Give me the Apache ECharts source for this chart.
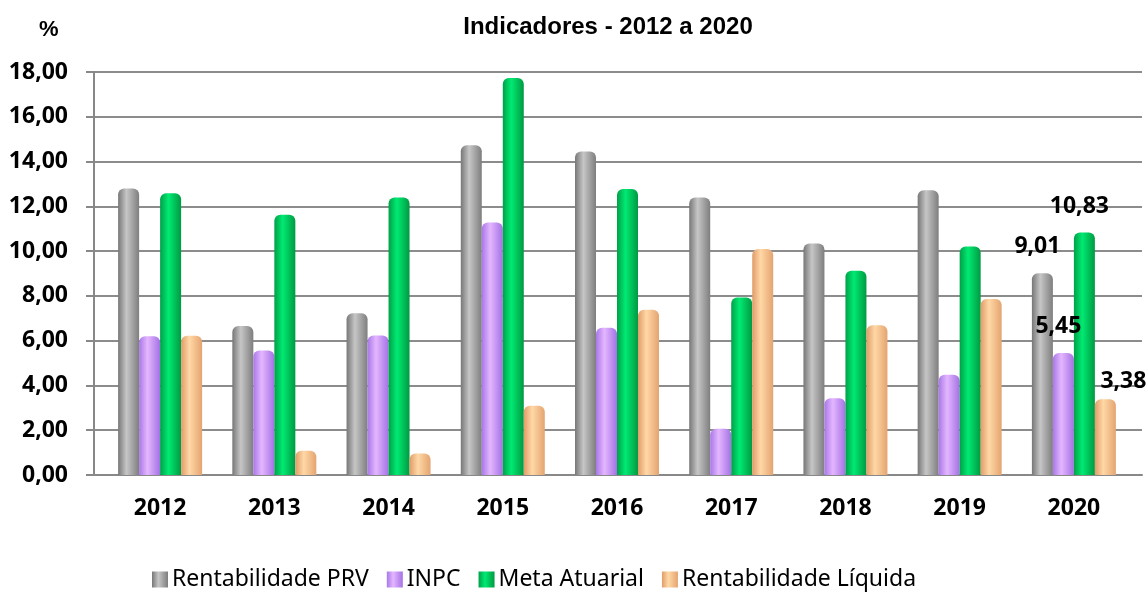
<!DOCTYPE html>
<html>
<head>
<meta charset="utf-8">
<script src="https://cdn.jsdelivr.net/npm/echarts@6/dist/echarts.min.js"></script>
<style>
html,body{margin:0;padding:0;background:#fff;}
#chart{width:1148px;height:597px;}
</style>
</head>
<body>
<div id="chart"></div>
<script>
const categories = ['2012','2013','2014','2015','2016','2017','2018','2019','2020'];
const rentabilidadePRV = [12.80, 6.66, 7.23, 14.73, 14.45, 12.40, 10.34, 12.72, 9.01];
const inpc = [6.20, 5.56, 6.23, 11.28, 6.58, 2.07, 3.43, 4.48, 5.45];
const metaAtuarial = [12.58, 11.62, 12.40, 17.73, 12.77, 7.93, 9.12, 10.21, 10.83];
const rentabilidadeLiquida = [6.22, 1.08, 0.96, 3.09, 7.38, 10.09, 6.69, 7.86, 3.38];
const seriesNames = ['Rentabilidade PRV', 'INPC', 'Meta Atuarial', 'Rentabilidade Líquida'];
const yMin = 0, yMax = 18, yStep = 2;

const chart = echarts.init(document.getElementById('chart'));
const fmt = v => Number(v).toFixed(2).replace('.', ',');
const grad = (a, b, c) => new echarts.graphic.LinearGradient(0, 0, 1, 0, [
  {offset: 0, color: a}, {offset: 0.4, color: b}, {offset: 1, color: c}
]);
const styles = [
  grad('#777777', '#c6c6c6', '#7e7e7e'),
  grad('#a878e8', '#e4b6ff', '#a472e4'),
  grad('#00a048', '#00ea72', '#009a42'),
  grad('#e09c68', '#ffd8a6', '#e4a470')
];
const labelCfg = [
  {distance: 15, offset: [-5, 0]},
  {distance: 15, offset: [-5, 0]},
  {distance: 15, offset: [-5, 0]},
  {distance: 6, offset: [18, 0]}
];
const allData = [rentabilidadePRV, inpc, metaAtuarial, rentabilidadeLiquida];
const lastIdx = categories.length - 1;

const series = allData.map((arr, i) => ({
  name: seriesNames[i],
  type: 'bar',
  xAxisIndex: 1,
  yAxisIndex: 1,
  barWidth: 21,
  barGap: '0%',
  itemStyle: {color: styles[i], borderRadius: [6, 6, 0, 0]},
  data: arr.map((v, j) => j === lastIdx ? {
    value: v,
    label: {
      show: true, position: 'top', distance: labelCfg[i].distance, offset: labelCfg[i].offset,
      formatter: p => fmt(p.value),
      fontFamily: 'Noto Sans', fontWeight: 'bold', fontSize: 23, color: '#000'
    }
  } : v)
}));

chart.setOption({
  animation: false,
  backgroundColor: '#fff',
  title: {
    text: 'Indicadores - 2012 a 2020',
    left: 603, top: 10, textAlign: 'center',
    textStyle: {fontFamily: 'Liberation Sans', fontWeight: 'bold', fontSize: 24, color: '#000'}
  },
  graphic: [{
    type: 'text', left: 39, top: 19,
    style: {text: '%', fontFamily: 'Liberation Sans', fontWeight: 'bold', fontSize: 22, fill: '#000'}
  }],
  legend: {
    left: 147, top: 563,
    itemWidth: 16, itemHeight: 16, itemGap: 18,
    icon: 'rect',
    textStyle: {fontFamily: 'Noto Sans', fontSize: 23, color: '#000', padding: [0, 0, 0, -1]},
    data: seriesNames
  },
  grid: [
    {left: 94, right: 6, top: 72, bottom: 122},
    {left: 103, right: 17, top: 72, bottom: 122}
  ],
  xAxis: [
    {
      type: 'value', gridIndex: 0, min: 0, max: 1,
      axisLine: {show: true, onZero: false, lineStyle: {color: '#888', width: 2}},
      axisTick: {show: false}, axisLabel: {show: false}, splitLine: {show: false}
    },
    {
      type: 'category', gridIndex: 1, data: categories,
      axisLine: {show: false}, axisTick: {show: false},
      axisLabel: {margin: 22, fontFamily: 'Noto Sans', fontWeight: 'bold', fontSize: 23, color: '#000'}
    }
  ],
  yAxis: [
    {
      type: 'value', gridIndex: 0, min: yMin, max: yMax, interval: yStep,
      axisLine: {show: true, lineStyle: {color: '#888', width: 2}},
      axisTick: {show: true, length: 8, lineStyle: {color: '#888', width: 2}},
      splitLine: {show: true, lineStyle: {color: '#8c8c8c', width: 2}},
      axisLabel: {margin: 26, formatter: v => fmt(v), fontFamily: 'Noto Sans', fontWeight: 'bold', fontSize: 23, color: '#000'}
    },
    {
      type: 'value', gridIndex: 1, min: yMin, max: yMax, interval: yStep,
      axisLine: {show: false}, axisTick: {show: false}, axisLabel: {show: false}, splitLine: {show: false}
    }
  ],
  series: series
});
</script>
</body>
</html>
